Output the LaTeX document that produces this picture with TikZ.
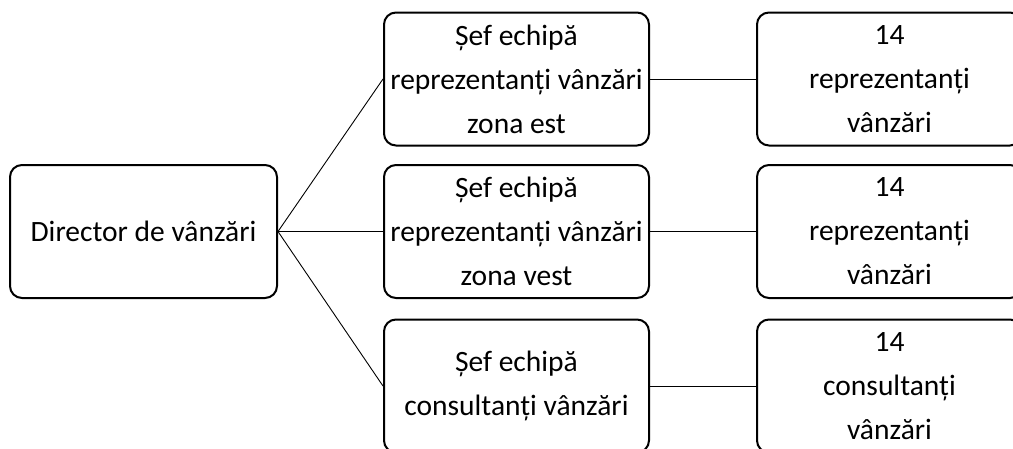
\documentclass[tikz,border=0pt]{standalone}
\usepackage{fontspec}
\setmainfont{Carlito}

\begin{document}
\begin{tikzpicture}[x=1pt,y=-1pt,
    box/.style={draw, line width=2pt, rounded corners=12pt, align=center,
      inner sep=0pt, minimum height=133pt, font=\fontsize{29.5}{44}\selectfont},
    link/.style={line width=0.9pt}]
  \path[use as bounding box, clip] (0,0) rectangle (1013,448);
  \node [box, minimum width=267pt] (dir) at (143.5,231.5) {Director de vânzări};
  \node [box, minimum width=265pt] (sefest) at (516.5,79) {Șef echipă\\reprezentanți vânzări\\zona est};
  \node [box, minimum width=265pt] (sefvest) at (516.5,231.5) {Șef echipă\\reprezentanți vânzări\\zona vest};
  \node [box, minimum width=265pt] (sefcons) at (516.5,386) {Șef echipă\\consultanți vânzări};
  \node [box, minimum width=265pt] (repest) at (889.5,79) {14\\reprezentanți\\vânzări};
  \node [box, minimum width=265pt] (repvest) at (889.5,231.5) {14\\reprezentanți\\vânzări};
  \node [box, minimum width=265pt] (cons) at (889.5,386) {14\\consultanți\\vânzări};
  \draw [link] (dir.east) -- (sefest.west);
  \draw [link] (dir.east) -- (sefvest.west);
  \draw [link] (dir.east) -- (sefcons.west);
  \draw [link] (sefest) -- (repest);
  \draw [link] (sefvest) -- (repvest);
  \draw [link] (sefcons) -- (cons);
\end{tikzpicture}
\end{document}
